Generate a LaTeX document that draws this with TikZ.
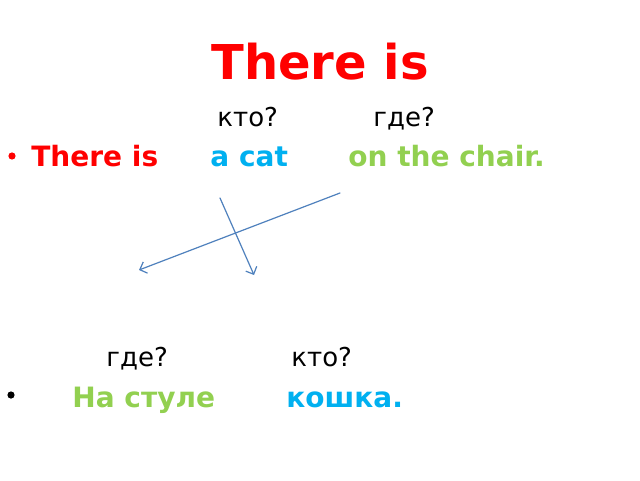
\documentclass[tikz,border=0pt]{standalone}
\usepackage{fontspec}
\setmainfont{DejaVu Sans}
\usetikzlibrary{arrows.meta}
\definecolor{titlered}{HTML}{FF0000}
\definecolor{catblue}{HTML}{00B0F0}
\definecolor{chairgreen}{HTML}{92D050}
\definecolor{arrowblue}{HTML}{4F81BD}
\begin{document}
\begin{tikzpicture}[x=0.5pt,y=-0.5pt,line join=round,line cap=round,>={Straight Barb[length=3pt,width=6pt]},
    word/.style={anchor=base west,inner sep=0pt,font=\fontsize{14}{16}\selectfont\bfseries},
    ask/.style={anchor=base west,inner sep=0pt,font=\fontsize{13}{15}\selectfont}]
            \useasboundingbox[fill=white] (0,0) rectangle (640,480);
            \node[anchor=base,inner sep=0pt,text=titlered,font=\fontsize{24}{28}\selectfont\bfseries] (title) at (320,80) {There is};
            % english line
            \node[ask] (who1) at (217,127) {кто?};
            \node[ask] (where1) at (373,127) {где?};
            \fill[titlered] (12,156) circle(3.6);
            \node[word,text=titlered] (there) at (31,167) {There is};
            \node[word,text=catblue] (cat) at (210,167) {a cat};
            \node[word,text=chairgreen] (chair) at (348,167) {on the chair.};
            % russian line
            \node[ask] (where2) at (106,366) {где?};
            \node[ask] (who2) at (291,366) {кто?};
            \fill (11,395) circle(3.6);
            \node[word,text=chairgreen] (stul) at (72,407) {На стуле};
            \node[word,text=catblue] (koshka) at (286,407) {кошка.};
            % arrows
            \coordinate (catA) at (220,198);
            \coordinate (catB) at (254,275);
            \coordinate (chairA) at (340,193);
            \coordinate (chairB) at (139,270);
            \draw[->,arrowblue,line width=0.6pt] (catA)--(catB);
            \draw[->,arrowblue,line width=0.6pt] (chairA)--(chairB);
\end{tikzpicture}
\end{document}
